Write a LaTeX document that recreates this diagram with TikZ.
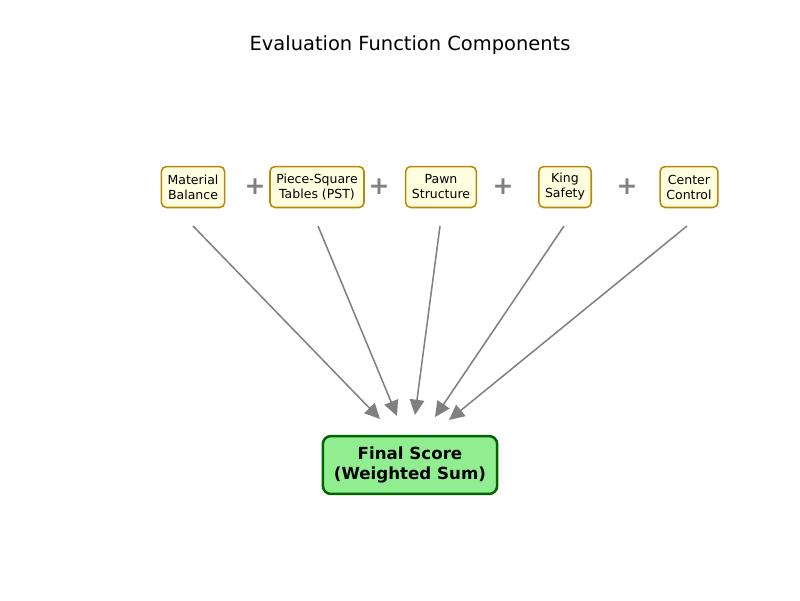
\documentclass[tikz,border=0pt]{standalone}
\usepackage{fontspec}
\setmainfont{DejaVu Sans}
\usepackage{xcolor}
\usepackage{tikz}
\usetikzlibrary{arrows.meta, positioning}

\definecolor{boxfill}{HTML}{FFFFE0}
\definecolor{boxedge}{HTML}{B8860B}
\definecolor{finfill}{HTML}{90EE90}
\definecolor{finedge}{HTML}{006400}
\definecolor{arrgray}{HTML}{808080}

\tikzset{
    part/.style={draw=boxedge, fill=boxfill, line width=1.1pt, rounded corners=3.6pt,
        align=center, inner xsep=4.5pt, inner ysep=4.5pt, minimum height=29.5pt,
        font=\fontsize{9}{10.8}\selectfont},
    plus/.style={text=arrgray, font=\fontsize{18}{20}\selectfont\bfseries},
    feed/.style={draw=arrgray, line width=1.1pt,
        -{Triangle[length=11pt, width=10.5pt]}}
}

\begin{document}
\begin{tikzpicture}[x=0.72pt, y=-0.72pt]
    \useasboundingbox (0,0) rectangle (800,600);
    \node[font=\fontsize{14}{16}\selectfont] (title) at (410,45) {Evaluation Function Components};

    % Components in a row
    \node[part] (mat) at (193,187) {Material\\Balance};
    \node[part] (pst) at (317,187) {Piece-Square\\Tables (PST)};
    \node[part] (pawn) at (441,187) {Pawn\\Structure};
    \node[part] (king) at (565,187) {King\\Safety};
    \node[part] (ctr) at (689,187) {Center\\Control};
    \foreach \x/\n in {255/p1, 379/p2, 503/p3, 627/p4}
        \node[plus] (\n) at (\x,187) {+};

    % Final score box
    \node[draw=finedge, fill=finfill, line width=1.8pt, rounded corners=5.8pt,
        align=center, inner xsep=8pt, inner ysep=7.5pt,
        font=\fontsize{12}{15}\selectfont\bfseries] (final) at (410,465)
        {Final Score\\(Weighted Sum)};

    % Arrows into the final score
    \foreach \n/\sx/\ex/\ey in {mat/193/380/419, pst/318/397/416, pawn/440/415/415,
                                king/564/435/417, ctr/687/449/420} {
        \coordinate (\n-out) at (\sx,226);
        \coordinate (\n-in) at (\ex,\ey);
        \draw[feed] (\n-out) -- (\n-in);
    }
\end{tikzpicture}
\end{document}
